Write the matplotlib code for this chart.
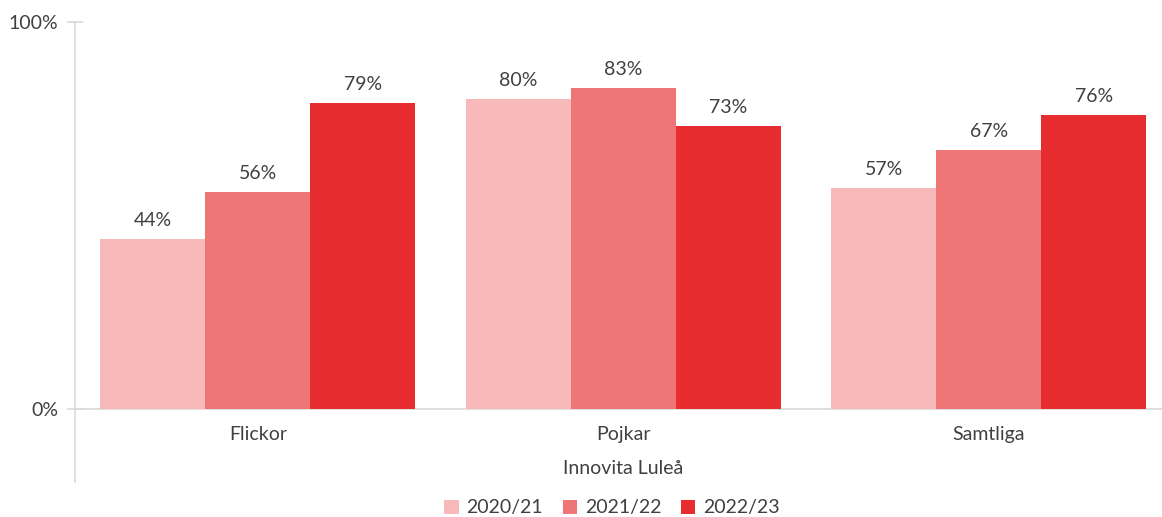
import matplotlib
matplotlib.use("Agg")
import matplotlib.pyplot as plt
import numpy as np

categories = ["Flickor", "Pojkar", "Samtliga"]
series_names = ["2020/21", "2021/22", "2022/23"]
v2020 = [44, 80, 57]
v2021 = [56, 83, 67]
v2022 = [79, 73, 76]
colors = ["#F7B9BA", "#EF7677", "#E82D31"]
ytick_labels = ["0%", "100%"]
xlabel = "Innovita Luleå"

plt.rcParams['font.family'] = ['Lato', 'DejaVu Sans']
text_color = "#404040"

W, H = 1162, 517
fig = plt.figure(figsize=(W / 100, H / 100), dpi=100)
ax = fig.add_axes([75 / W, (H - 482) / H, (1162 - 75) / W, (482 - 22) / H])

x = np.arange(len(categories))
bw = 0.287
data = [v2020, v2021, v2022]
for i, (vals, c, name) in enumerate(zip(data, colors, series_names)):
    pos = x + (i - 1) * bw
    ax.bar(pos, vals, width=bw, color=c, label=name, zorder=2)
    for p, v in zip(pos, vals):
        ax.text(p, v + 2.6, f"{v}%", ha="center", va="bottom",
                fontsize=14, color=text_color)

ax.set_xlim(-0.5, 2.474)
ax.set_ylim(-18.9, 100)
ax.axhline(0, color="#D9D9D9", lw=1.2, zorder=1)
ax.set_yticks([0, 100])
ax.set_yticklabels(ytick_labels, fontsize=14, color=text_color)
ax.tick_params(axis="y", direction="inout", length=12, width=1.2, color="#D9D9D9", pad=6)
ax.set_xticks([])
for s in ["top", "right", "bottom"]:
    ax.spines[s].set_visible(False)
ax.spines["left"].set_color("#D9D9D9")
ax.spines["left"].set_linewidth(1.2)

for xi, cat in zip(x, categories):
    ax.text(xi, -4.3, cat, ha="center", va="top", fontsize=14, color=text_color)
ax.text(x[1], -13.3, xlabel, ha="center", va="top", fontsize=14, color=text_color)

leg = fig.legend(loc="center", bbox_to_anchor=(612 / W, 1 - 508 / H), ncol=3,
                 frameon=False, fontsize=14, handlelength=0.75, handleheight=0.75,
                 handletextpad=0.4, columnspacing=1.0)
for t in leg.get_texts():
    t.set_color(text_color)

fig.savefig("out.png", dpi=100)
